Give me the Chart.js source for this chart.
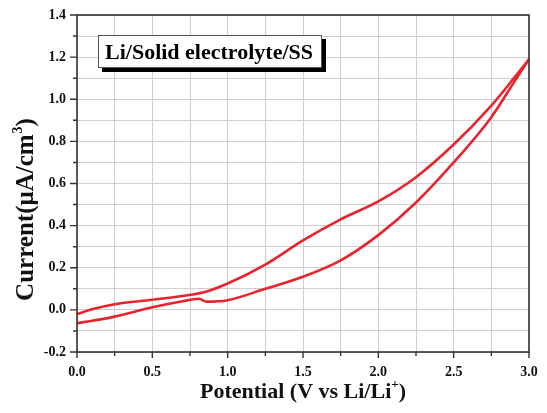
<!DOCTYPE html>
<html>
<head>
<meta charset="utf-8">
<style>
  html, body { margin: 0; padding: 0; background: #fff; }
  #wrap { width: 547px; height: 413px; }
</style>
<script src="https://cdn.jsdelivr.net/npm/chart.js@4.4.1/dist/chart.umd.min.js"></script>
</head>
<body>
<div id="wrap"><canvas id="cv"></canvas></div>
<script>
// upper branch of the loop
const upperPotential = [0, 0.1, 0.25, 0.5, 0.7, 0.85, 1.0, 1.25, 1.5, 1.75, 2.0, 2.25, 2.5, 2.75, 2.9, 3.0];
const upperCurrent   = [-0.02, 0.003, 0.027, 0.048, 0.066, 0.085, 0.125, 0.215, 0.33, 0.43, 0.515, 0.63, 0.785, 0.97, 1.10, 1.19];

// lower branch of the loop (with the small bump near 0.8 V)
const lowerPotential = [0, 0.1, 0.25, 0.5, 0.7, 0.81, 0.83, 0.86, 1.0, 1.25, 1.5, 1.75, 2.0, 2.25, 2.5, 2.75, 2.9, 3.0];
const lowerCurrent   = [-0.063, -0.052, -0.032, 0.012, 0.041, 0.053, 0.047, 0.039, 0.046, 0.10, 0.157, 0.235, 0.355, 0.51, 0.70, 0.915, 1.08, 1.19];

const xMajorTicks = [0.0, 0.5, 1.0, 1.5, 2.0, 2.5, 3.0];
const yMajorTicks = [-0.2, 0.0, 0.2, 0.4, 0.6, 0.8, 1.0, 1.2, 1.4];

const boxLabel = 'Li/Solid electrolyte/SS';
const SERIF = "'Liberation Serif', 'Times New Roman', 'DejaVu Serif', serif";
const RED = '#e8242c';

const toPoints = (xs, ys) => xs.map((x, i) => ({ x: x, y: ys[i] }));
const isMajor = (v, list) => list.some(t => Math.abs(t - v) < 1e-6);
const fmt = v => (Math.abs(v) < 1e-9 ? 0 : v).toFixed(1);

// draws the frame, tick marks, axis titles and the label box
const decorations = {
    id: 'decorations',
    afterDraw(chart) {
        const { ctx, chartArea: a, scales } = chart;
        const xs = scales.x, ys = scales.y;
        ctx.save();

        // frame
        ctx.strokeStyle = '#333';
        ctx.lineWidth = 1.6;
        ctx.strokeRect(a.left, a.top, a.right - a.left, a.bottom - a.top);

        // tick marks (major long, minor short)
        ctx.lineWidth = 1.4;
        ctx.beginPath();
        xs.ticks.forEach(t => {
            const px = xs.getPixelForValue(t.value);
            const len = isMajor(t.value, xMajorTicks) ? 6 : 4;
            ctx.moveTo(px, a.bottom);
            ctx.lineTo(px, a.bottom + len);
        });
        ys.ticks.forEach(t => {
            const py = ys.getPixelForValue(t.value);
            const len = isMajor(t.value, yMajorTicks) ? 7 : 4;
            ctx.moveTo(a.left, py);
            ctx.lineTo(a.left - len, py);
        });
        ctx.stroke();

        // x title with superscript
        ctx.fillStyle = '#111';
        ctx.textBaseline = 'alphabetic';
        const big = 'bold 22px ' + SERIF, small = 'bold 13px ' + SERIF;
        ctx.font = big;
        const p1 = 'Potential (V vs Li/Li', p3 = ')';
        const w1 = ctx.measureText(p1).width, w3 = ctx.measureText(p3).width;
        ctx.font = small;
        const w2 = ctx.measureText('+').width;
        const x0 = 303 - (w1 + w2 + w3) / 2;
        const base = 398;
        ctx.font = big; ctx.fillText(p1, x0, base);
        ctx.font = small; ctx.fillText('+', x0 + w1, base - 10);
        ctx.font = big; ctx.fillText(p3, x0 + w1 + w2, base);

        // y title, rotated
        ctx.save();
        ctx.translate(33, 210);
        ctx.rotate(-Math.PI / 2);
        const yb = 'bold 25px ' + SERIF, ys2 = 'bold 14px ' + SERIF;
        ctx.font = yb;
        const q1 = 'Current(\u03bcA/cm', q3 = ')';
        const v1 = ctx.measureText(q1).width, v3 = ctx.measureText(q3).width;
        ctx.font = ys2;
        const v2 = ctx.measureText('3').width;
        const s0 = -(v1 + v2 + v3) / 2;
        ctx.font = yb; ctx.fillText(q1, s0, 0);
        ctx.font = ys2; ctx.fillText('3', s0 + v1 + 1, -11);
        ctx.font = yb; ctx.fillText(q3, s0 + v1 + v2 + 1, 0);
        ctx.restore();

        // label box with drop shadow
        const bx = 98, by = 35, bw = 224, bh = 33;
        ctx.fillStyle = '#000';
        ctx.fillRect(bx + 4, by + 4, bw, bh);
        ctx.fillStyle = '#fff';
        ctx.fillRect(bx, by, bw, bh);
        ctx.strokeStyle = '#555';
        ctx.lineWidth = 1;
        ctx.strokeRect(bx + 0.5, by + 0.5, bw - 1, bh - 1);
        ctx.fillStyle = '#000';
        ctx.font = 'bold 22px ' + SERIF;
        ctx.textAlign = 'center';
        ctx.fillText(boxLabel, bx + bw / 2 - 1, by + 24);

        ctx.restore();
    }
};

const lineStyle = {
    showLine: true,
    borderColor: RED,
    borderWidth: 2.6,
    pointRadius: 0,
    fill: false,
    cubicInterpolationMode: 'monotone'
};

new Chart(document.getElementById('cv'), {
    type: 'scatter',
    data: {
        datasets: [
            Object.assign({ label: 'upper', data: toPoints(upperPotential, upperCurrent) }, lineStyle),
            Object.assign({ label: 'lower', data: toPoints(lowerPotential, lowerCurrent) }, lineStyle)
        ]
    },
    options: {
        responsive: true,
        maintainAspectRatio: false,
        animation: false,
        layout: { padding: { top: 15, right: 18, left: 0, bottom: 0 } },
        plugins: { legend: { display: false }, tooltip: { enabled: false } },
        scales: {
            x: {
                type: 'linear',
                min: 0, max: 3,
                afterFit: s => { s.height = 61; s.paddingLeft = 0; s.paddingRight = 0; },
                border: { display: false },
                grid: { color: '#cfcfcf', borderDash: [1, 2], lineWidth: 1, drawTicks: false },
                ticks: {
                    stepSize: 0.25,
                    autoSkip: false,
                    maxRotation: 0,
                    padding: 12,
                    color: '#111',
                    font: { family: SERIF, size: 14, weight: 'bold' },
                    callback: v => isMajor(v, xMajorTicks) ? fmt(v) : ''
                }
            },
            y: {
                type: 'linear',
                min: -0.2, max: 1.4,
                afterFit: s => { s.width = 77; s.paddingTop = 0; s.paddingBottom = 0; },
                border: { display: false },
                grid: { color: '#cfcfcf', borderDash: [1, 2], lineWidth: 1, drawTicks: false },
                ticks: {
                    stepSize: 0.1,
                    autoSkip: false,
                    padding: 11,
                    color: '#111',
                    font: { family: SERIF, size: 14, weight: 'bold' },
                    callback: v => isMajor(v, yMajorTicks) ? fmt(v) : ''
                }
            }
        }
    },
    plugins: [decorations]
});
</script>
</body>
</html>
